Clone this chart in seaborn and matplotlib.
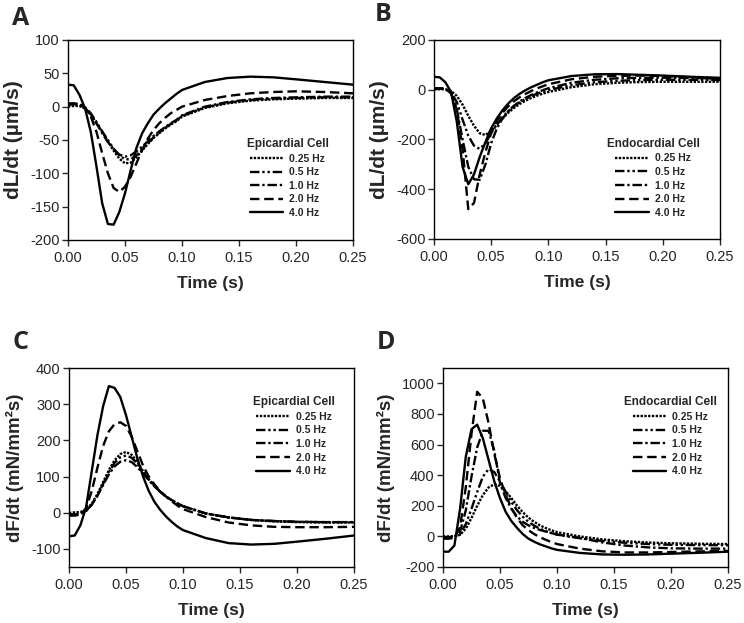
import numpy as np
import pandas as pd
import seaborn as sns
import matplotlib.pyplot as plt

# time axis shared by all traces (s)
time_s = [0, 0.005, 0.01, 0.015, 0.02, 0.025, 0.03, 0.035, 0.04, 0.045, 0.05,
          0.055, 0.06, 0.065, 0.07, 0.075, 0.08, 0.085, 0.09, 0.095, 0.1,
          0.12, 0.14, 0.16, 0.18, 0.2, 0.225, 0.25]

freqs = ["0.25 Hz", "0.5 Hz", "1.0 Hz", "2.0 Hz", "4.0 Hz"]

# A: dL/dt, epicardial cell (um/s)
epi_dl_025 = [0, 1, 1, -3, -12, -25, -38, -52, -66, -78, -85, -84, -76, -66, -56, -47, -40, -33, -27, -22, -15, -2, 5, 9, 11, 12, 13, 13]
epi_dl_05 = [5, 5, 4, -1, -10, -23, -37, -50, -63, -73, -79, -79, -73, -64, -55, -46, -39, -32, -26, -21, -14, -1, 6, 10, 12, 13, 14, 14]
epi_dl_1 = [3, 4, 3, -2, -12, -25, -40, -53, -64, -72, -75, -73, -67, -60, -52, -44, -37, -31, -25, -20, -13, 0, 7, 11, 13, 14, 15, 15]
epi_dl_2 = [3, 4, 3, -2, -15, -38, -70, -100, -122, -128, -120, -105, -85, -65, -48, -35, -25, -17, -10, -5, 0, 10, 16, 20, 22, 23, 22, 20]
epi_dl_4 = [33, 32, 18, -3, -38, -90, -145, -176, -177, -158, -130, -95, -62, -40, -25, -12, -3, 5, 12, 19, 25, 37, 43, 45, 44, 41, 37, 33]

# B: dL/dt, endocardial cell (um/s)
endo_dl_025 = [0, 2, 2, -5, -25, -60, -105, -145, -175, -182, -165, -140, -115, -92, -73, -57, -44, -33, -24, -16, -9, 10, 22, 28, 31, 32, 32, 32]
endo_dl_05 = [5, 5, 3, -10, -50, -120, -185, -225, -238, -215, -175, -140, -110, -86, -66, -50, -37, -26, -16, -8, -1, 18, 30, 36, 39, 40, 40, 39]
endo_dl_1 = [5, 5, 3, -15, -80, -200, -310, -360, -362, -300, -215, -155, -115, -86, -64, -47, -33, -21, -11, -2, 6, 28, 40, 46, 48, 48, 47, 45]
endo_dl_2 = [5, 6, 4, -15, -80, -240, -480, -455, -340, -250, -175, -125, -92, -66, -46, -30, -17, -5, 5, 14, 22, 42, 52, 56, 57, 55, 50, 45]
endo_dl_4 = [52, 50, 30, -10, -130, -310, -380, -340, -270, -210, -155, -115, -82, -55, -33, -16, -2, 10, 20, 30, 38, 55, 62, 63, 60, 57, 52, 48]

# C: dF/dt, epicardial cell (mN/mm2s)
epi_df_025 = [0, 1, 2, 8, 25, 52, 85, 118, 145, 162, 168, 160, 140, 115, 92, 74, 58, 45, 35, 26, 18, -2, -13, -20, -24, -26, -27, -27]
epi_df_05 = [-5, -5, -3, 5, 22, 48, 80, 112, 138, 153, 158, 152, 135, 113, 92, 74, 58, 45, 35, 26, 18, -2, -13, -20, -23, -25, -26, -26]
epi_df_1 = [-5, -5, -3, 5, 22, 47, 77, 106, 128, 141, 145, 140, 126, 108, 90, 73, 58, 45, 35, 26, 18, -2, -13, -20, -23, -25, -26, -26]
epi_df_2 = [-8, -8, -5, 12, 60, 125, 185, 225, 245, 250, 240, 210, 170, 130, 100, 78, 60, 45, 32, 20, 10, -12, -27, -35, -39, -40, -40, -39]
epi_df_4 = [-65, -63, -35, 15, 115, 215, 295, 350, 345, 320, 270, 210, 150, 100, 60, 30, 8, -10, -25, -38, -48, -70, -84, -88, -86, -80, -72, -63]

# D: dF/dt, endocardial cell (mN/mm2s)
endo_df_025 = [0, 0, 2, 10, 50, 120, 200, 270, 320, 340, 330, 295, 250, 200, 158, 122, 95, 72, 55, 40, 28, 0, -20, -32, -40, -45, -48, -50]
endo_df_05 = [-5, -5, -3, 15, 80, 180, 290, 390, 440, 420, 360, 290, 225, 170, 128, 95, 70, 50, 35, 22, 12, -12, -30, -42, -50, -55, -57, -58]
endo_df_1 = [-10, -10, -5, 30, 170, 390, 580, 690, 690, 560, 350, 250, 180, 130, 95, 72, 55, 42, 32, 22, 12, -10, -40, -60, -72, -78, -80, -80]
endo_df_2 = [-15, -15, -10, 60, 320, 670, 945, 900, 740, 540, 380, 270, 185, 120, 72, 40, 15, -5, -22, -37, -50, -80, -98, -105, -105, -102, -98, -95]
endo_df_4 = [-100, -100, -60, 180, 520, 700, 730, 640, 500, 360, 250, 160, 100, 55, 15, -15, -35, -52, -65, -78, -88, -108, -118, -120, -118, -113, -107, -100]

dashes = {"0.25 Hz": (1, 0.6), "0.5 Hz": (4, 1.2, 1, 1.2, 1, 1.2),
          "1.0 Hz": (4, 1.2, 1, 1.2), "2.0 Hz": (4, 2), "4.0 Hz": ""}


def to_long(series):
    rows = []
    for f, vals in zip(freqs, series):
        for t, v in zip(time_s, vals):
            rows.append({"time": t, "value": v, "freq": f})
    return pd.DataFrame(rows)


def draw_panel(ax, series, ylim, yticks, ylabel, ylabel_size, cell, leg_xy):
    df = to_long(series)
    sns.lineplot(data=df, x="time", y="value", style="freq", style_order=freqs,
                 dashes=dashes, color="black", linewidth=1.7, errorbar=None, ax=ax)
    ax.set_xlim(0, 0.25)
    ax.set_ylim(*ylim)
    ax.set_xticks([0, 0.05, 0.1, 0.15, 0.2, 0.25])
    ax.set_xticklabels(["%.2f" % x for x in [0, 0.05, 0.1, 0.15, 0.2, 0.25]])
    ax.set_yticks(yticks)
    ax.set_yticklabels([str(y) for y in yticks])
    ax.tick_params(direction="out", length=4, width=1, labelsize=10.5, pad=2,
                   top=False, right=False)
    ax.tick_params(axis="x", pad=4)
    ax.set_xlabel("Time (s)", fontsize=12.5, fontweight="bold", labelpad=8)
    ax.set_ylabel(ylabel, fontsize=ylabel_size, fontweight="bold", labelpad=5)
    for s in ax.spines.values():
        s.set_linewidth(1)
        s.set_color("black")
    sns.move_legend(ax, "center", bbox_to_anchor=leg_xy, title=cell,
                    title_fontsize=8.5, title_fontweight="bold", frameon=False,
                    prop={"weight": "bold", "size": 7.5}, handlelength=3.2,
                    labelspacing=0.35, handletextpad=0.6, borderpad=0.2)


sns.set_style("ticks")
plt.rcParams["font.family"] = ["Liberation Sans", "DejaVu Sans"]
plt.rcParams["axes.unicode_minus"] = False

fig = plt.figure(figsize=(7.44, 6.23), dpi=100)
axA = fig.add_axes([0.0914, 0.6148, 0.3831, 0.3210])
axB = fig.add_axes([0.5833, 0.6164, 0.3844, 0.3194])
axC = fig.add_axes([0.0927, 0.0899, 0.3831, 0.3194])
axD = fig.add_axes([0.5954, 0.0899, 0.3831, 0.3194])

draw_panel(axA, [epi_dl_025, epi_dl_05, epi_dl_1, epi_dl_2, epi_dl_4],
           (-200, 100), [-200, -150, -100, -50, 0, 50, 100],
           "dL/dt (\u00b5m/s)", 15, "Epicardial Cell", (0.77, 0.31))
draw_panel(axB, [endo_dl_025, endo_dl_05, endo_dl_1, endo_dl_2, endo_dl_4],
           (-600, 200), [-600, -400, -200, 0, 200],
           "dL/dt (\u00b5m/s)", 15, "Endocardial Cell", (0.766, 0.307))
draw_panel(axC, [epi_df_025, epi_df_05, epi_df_1, epi_df_2, epi_df_4],
           (-150, 400), [-100, 0, 100, 200, 300, 400],
           "dF/dt (mN/mm\u00b2s)", 13.5, "Epicardial Cell", (0.79, 0.658))
draw_panel(axD, [endo_df_025, endo_df_05, endo_df_1, endo_df_2, endo_df_4],
           (-200, 1100), [-200, 0, 200, 400, 600, 800, 1000],
           "dF/dt (mN/mm\u00b2s)", 13.5, "Endocardial Cell", (0.798, 0.658))

for letter, x, y in [("A", 12, 6), ("B", 375, 2), ("C", 12, 330), ("D", 377, 330)]:
    fig.text(x / 744, 1 - y / 623, letter, fontsize=18, fontweight="bold",
             family=["Open Sans", "DejaVu Sans"], va="top", ha="left")

fig.savefig("out.png", dpi=100)
